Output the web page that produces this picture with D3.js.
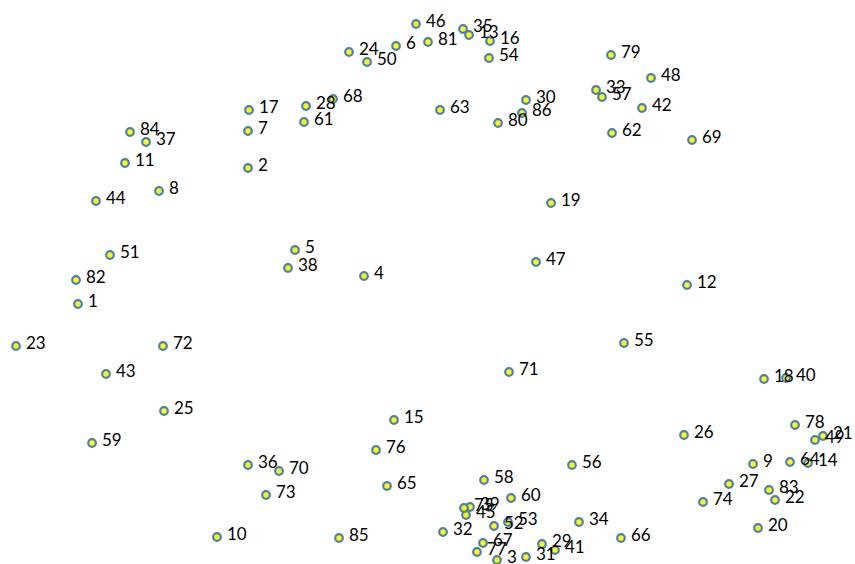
<!DOCTYPE html>
<html><head><meta charset="utf-8">
<script src="https://cdn.jsdelivr.net/npm/d3@7"></script>
<style>html,body{margin:0;padding:0;background:#fff;}svg{display:block;}</style>
</head><body>
<script>
const ids = [1,2,3,4,5,6,7,8,9,10,11,12,13,14,15,16,17,18,19,20,21,22,23,24,25,26,27,28,29,30,31,32,33,34,35,36,37,38,39,40,41,42,43,44,45,46,47,48,49,50,51,52,53,54,55,56,57,58,59,60,61,62,63,64,65,66,67,68,69,70,71,72,73,74,75,76,77,78,79,80,81,82,83,84,85,86];
const xVals = [78,248,497,364,295,396,248,159,753,217,125,687,469,808,394,490,249,764,551,758,823,775,16,349,164,684,729,306,542,526,526,443,596,579,463,248,146,288,470,786,555,642,106,96,466,416,536,651,815,367,110,494,508,489,624,572,602,484,92,511,304,612,440,790,387,621,483,333,692,279,509,163,266,703,464,376,477,795,611,498,428,76,769,130,339,522];
const yVals = [304,168,560,276,250,46,131,191,464,537,163,285,35,463,420,41,110,379,203,528,436,500,346,52,411,435,484,106,544,100,557,532,90,522,29,465,142,268,507,378,550,108,374,201,515,24,262,78,440,62,255,526,522,58,343,465,97,480,443,498,122,133,110,462,486,538,543,99,140,471,372,346,495,502,508,450,552,425,55,123,42,280,490,132,538,113];

const W = 855, H = 564;
const svg = d3.select("body").append("svg").attr("width", W).attr("height", H);
const x = d3.scaleLinear().domain([0, 855]).range([0, W]);
const y = d3.scaleLinear().domain([0, 564]).range([0, H]);
const data = ids.map((id, i) => ({id, x: xVals[i], y: yVals[i]}));

const g = svg.append("g");
g.selectAll("circle").data(data).join("circle")
  .attr("cx", d => x(d.x)).attr("cy", d => y(d.y)).attr("r", 3.8)
  .attr("fill", "#ffff00").attr("stroke", "#4a7ebb").attr("stroke-width", 2.2);
g.selectAll("text").data(data).join("text")
  .attr("x", d => x(d.x) + 10).attr("y", d => y(d.y) + 3)
  .attr("font-family", "Lato, 'Liberation Sans', sans-serif").attr("font-size", 17)
  .attr("fill", "#000").text(d => d.id);
</script>
</body></html>
